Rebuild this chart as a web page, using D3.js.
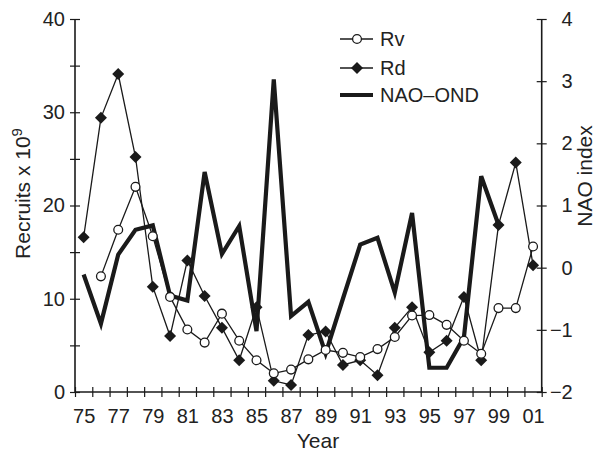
<!DOCTYPE html>
<html>
<head>
<meta charset="utf-8">
<script src="https://cdn.jsdelivr.net/npm/d3@7"></script>
<style>
  body { margin: 0; background: #fff; }
  text { font-family: "Liberation Sans", Arial, Helvetica, sans-serif; fill: #222; }
</style>
</head>
<body>
<div id="chart"></div>
<script>
// years 1975..2001
const years = d3.range(1975, 2002);
const rv = [null, 12.4, 17.4, 22.0, 16.7, 10.2, 6.7, 5.3, 8.4, 5.5, 3.4, 2.0, 2.4, 3.5, 4.5, 4.2, 3.75, 4.6, 5.9, 8.2, 8.25, 7.2, 5.5, 4.1, 9.0, 9.0, 15.6];
const rd = [16.6, 29.4, 34.1, 25.2, 11.3, 6.0, 14.1, 10.3, 6.9, 3.4, 9.1, 1.2, 0.75, 6.1, 6.5, 2.9, 3.4, 1.8, 6.9, 9.1, 4.25, 5.5, 10.2, 3.4, 17.9, 24.6, 13.6];
const nao = [-0.11, -0.9, 0.21, 0.61, 0.68, -0.45, -0.53, 1.54, 0.22, 0.67, -1.02, 3.03, -0.78, -0.55, -1.38, -0.5, 0.37, 0.48, -0.4, 0.88, -1.61, -1.61, -1.12, 1.47, 0.69, null, null];
const xLabels = d3.range(1975, 2002, 2);
const leftTicks = [0, 10, 20, 30, 40];
const rightTicks = [-2, -1, 0, 1, 2, 3, 4];

const width = 601, height = 453;
const pl = 75, pr = 541.7, pt = 19, pb = 392;
const ink = "#1a1a1a";

const svg = d3.select("#chart").append("svg")
  .attr("width", width)
  .attr("height", height);

const x = d3.scaleLinear().domain([1974.5, 2001.5]).range([pl, pr]);
const y = d3.scaleLinear().domain([0, 40]).range([pb, pt]);
const y2 = d3.scaleLinear().domain([-2, 4]).range([pb, pt]);

// x axis: ticks at year boundaries, crossing the line
const gx = svg.append("g")
  .attr("transform", `translate(0,${pb})`)
  .call(d3.axisBottom(x).tickValues(d3.range(1974.5, 2002, 1)).tickSize(5).tickFormat(""));
gx.select(".domain").remove();
gx.selectAll(".tick line").attr("y1", -5).attr("stroke", ink).attr("stroke-width", 1.2);
svg.append("line").attr("x1", pl).attr("x2", pr).attr("y1", pb).attr("y2", pb)
  .attr("stroke", ink).attr("stroke-width", 1.6);

const gxl = svg.append("g")
  .attr("transform", `translate(0,${pb})`)
  .call(d3.axisBottom(x).tickValues(xLabels).tickSize(0).tickPadding(17)
    .tickFormat(d => String(d % 100).padStart(2, "0")));
gxl.select(".domain").remove();
gxl.selectAll("text").attr("font-size", 20).attr("font-family", null);

// left axis
const gy = svg.append("g")
  .attr("transform", `translate(${pl},0)`)
  .call(d3.axisLeft(y).tickValues(d3.range(0, 41, 5)).tickSize(5).tickFormat(""));
gy.select(".domain").remove();
gy.selectAll(".tick line").attr("x1", 5).attr("stroke", ink).attr("stroke-width", 1.2);
svg.append("line").attr("x1", pl).attr("x2", pl).attr("y1", pt).attr("y2", pb)
  .attr("stroke", ink).attr("stroke-width", 1.6);

const gyl = svg.append("g")
  .attr("transform", `translate(${pl},0)`)
  .call(d3.axisLeft(y).tickValues(leftTicks).tickSize(0).tickPadding(10));
gyl.select(".domain").remove();
gyl.selectAll("text").attr("font-size", 20).attr("font-family", null);

// right axis
const gr = svg.append("g")
  .attr("transform", `translate(${pr},0)`)
  .call(d3.axisRight(y2).tickValues(rightTicks).tickSize(5).tickFormat(""));
gr.select(".domain").remove();
gr.selectAll(".tick line").attr("x1", -5).attr("stroke", ink).attr("stroke-width", 1.2);
svg.append("line").attr("x1", pr).attr("x2", pr).attr("y1", pt).attr("y2", pb)
  .attr("stroke", ink).attr("stroke-width", 1.6);

const grl = svg.append("g")
  .attr("transform", `translate(${pr},0)`)
  .call(d3.axisRight(y2).tickValues(rightTicks).tickSize(0).tickFormat(d => d < 0 ? "\u2212" + Math.abs(d) : d));
grl.select(".domain").remove();
grl.selectAll("text").attr("font-size", 20).attr("font-family", null)
  .attr("text-anchor", "end").attr("x", 31);

// axis titles
svg.append("text")
  .attr("x", 318).attr("y", 448)
  .attr("text-anchor", "middle").attr("font-size", 21)
  .text("Year");

const yt = svg.append("text")
  .attr("transform", `translate(30,${(pt + pb) / 2 - 12}) rotate(-90)`)
  .attr("text-anchor", "middle").attr("font-size", 21);
yt.append("tspan").text("Recruits x 10");
yt.append("tspan").attr("dy", -8).attr("font-size", 15).text("9");

svg.append("text")
  .attr("transform", `translate(592,176) rotate(-90)`)
  .attr("text-anchor", "middle").attr("font-size", 21)
  .text("NAO index");

// series
const naoLine = d3.line()
  .defined(d => d[1] != null)
  .x(d => x(d[0])).y(d => y2(d[1]));
const recLine = d3.line()
  .defined(d => d[1] != null)
  .x(d => x(d[0])).y(d => y(d[1]));

const naoPts = years.map((yr, i) => [yr, nao[i]]).filter(d => d[1] != null);
const rdPts = years.map((yr, i) => [yr, rd[i]]);
const rvPts = years.map((yr, i) => [yr, rv[i]]).filter(d => d[1] != null);

svg.append("path").datum(naoPts)
  .attr("d", naoLine).attr("fill", "none")
  .attr("stroke", ink).attr("stroke-width", 4.2).attr("stroke-linejoin", "miter");

svg.append("path").datum(rdPts)
  .attr("d", recLine).attr("fill", "none")
  .attr("stroke", ink).attr("stroke-width", 1.3);

svg.append("path").datum(rvPts)
  .attr("d", recLine).attr("fill", "none")
  .attr("stroke", ink).attr("stroke-width", 1.3);

const diamond = d3.symbol(d3.symbolSquare, 72);

svg.selectAll(".rd").data(rdPts).enter().append("path")
  .attr("class", "rd")
  .attr("d", diamond)
  .attr("transform", d => `translate(${x(d[0])},${y(d[1])}) rotate(45)`)
  .attr("fill", ink);

svg.selectAll(".rv").data(rvPts).enter().append("circle")
  .attr("class", "rv")
  .attr("cx", d => x(d[0])).attr("cy", d => y(d[1]))
  .attr("r", 4.4)
  .attr("fill", "#fff").attr("stroke", ink).attr("stroke-width", 1.3);

// legend
const legend = svg.append("g");
const items = [
  { name: "Rv", y: 39, type: "circle" },
  { name: "Rd", y: 68, type: "diamond" },
  { name: "NAO\u2013OND", y: 95, type: "thick" }
];
items.forEach(it => {
  legend.append("line")
    .attr("x1", 340).attr("x2", 373).attr("y1", it.y).attr("y2", it.y)
    .attr("stroke", ink).attr("stroke-width", it.type === "thick" ? 4.2 : 1.3);
  if (it.type === "circle") {
    legend.append("circle").attr("cx", 357).attr("cy", it.y).attr("r", 4.4)
      .attr("fill", "#fff").attr("stroke", ink).attr("stroke-width", 1.3);
  } else if (it.type === "diamond") {
    legend.append("path").attr("d", diamond)
      .attr("transform", `translate(357,${it.y}) rotate(45)`).attr("fill", ink);
  }
  legend.append("text")
    .attr("x", 380).attr("y", it.y).attr("dy", "0.36em")
    .attr("font-size", 20).text(it.name);
});
</script>
</body>
</html>
